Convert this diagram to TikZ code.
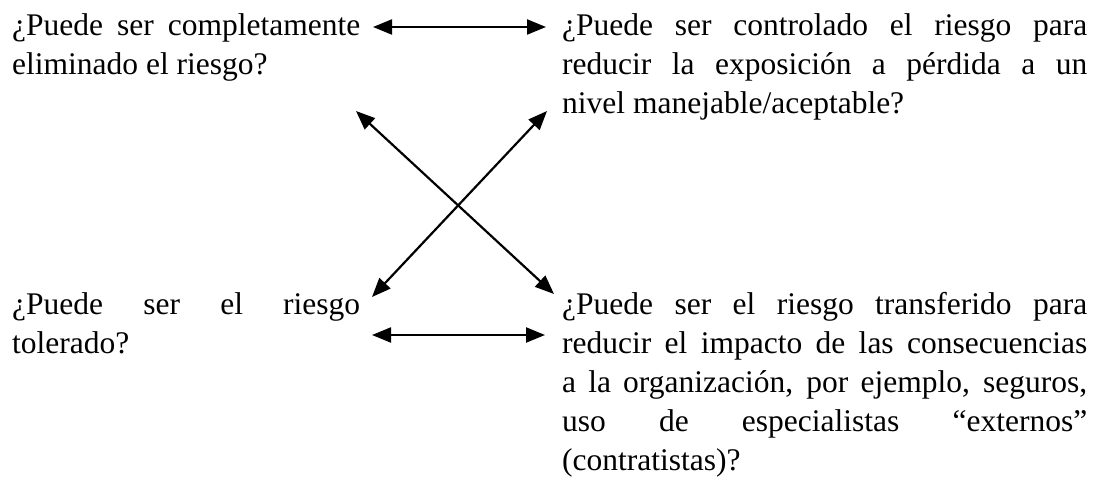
\documentclass[tikz,border=0pt]{standalone}
\usepackage{fontspec}
\setmainfont{Liberation Serif}
\usetikzlibrary{arrows.meta}
\hyphenpenalty=10000
\exhyphenpenalty=10000
\hbadness=10000

\begin{document}
\begin{tikzpicture}[x=1pt,y=-1pt]
                \useasboundingbox (0,0) rectangle (1097,486);

                \begin{scope}[every node/.style={anchor=north west,inner sep=0pt,align=justify,
                            font=\fontsize{31.5}{39}\selectfont}]
                    \node[text width=348pt] (elim) at (12,13.5) {¿Puede ser completamente eliminado el riesgo?};
                    \node[text width=525pt] (control) at (562,13.5) {¿Puede ser controlado el riesgo para\linebreak reducir la exposición a pérdida a un\linebreak nivel manejable/aceptable?};
                    \node[text width=348pt] (toler) at (12,292.5) {¿Puede ser el riesgo\linebreak tolerado?};
                    \node[text width=525pt] (transf) at (562,292.5) {¿Puede ser el riesgo transferido para\linebreak reducir el impacto de las consecuencias\linebreak a la organización, por ejemplo, seguros,\linebreak uso de especialistas “externos”\linebreak (contratistas)?};
                \end{scope}

                % arrow ends
                \coordinate (elimR) at (373,27);
                \coordinate (controlL) at (546,27);
                \coordinate (tolerR) at (372,335);
                \coordinate (transfL) at (545,335);
                \coordinate (elimD) at (356,111);
                \coordinate (transfU) at (554,294);
                \coordinate (controlD) at (547,111);
                \coordinate (tolerU) at (372,297);

                \begin{scope}[every edge/.style={draw=black,line width=2.2pt},
                            >={Triangle[length=19pt,width=15pt]}]
                    \path [<->] (elimR) edge (controlL);
                    \path [<->] (tolerR) edge (transfL);
                    \path [<->] (elimD) edge (transfU);
                    \path [<->] (controlD) edge (tolerU);
                \end{scope}
            \end{tikzpicture}
\end{document}
